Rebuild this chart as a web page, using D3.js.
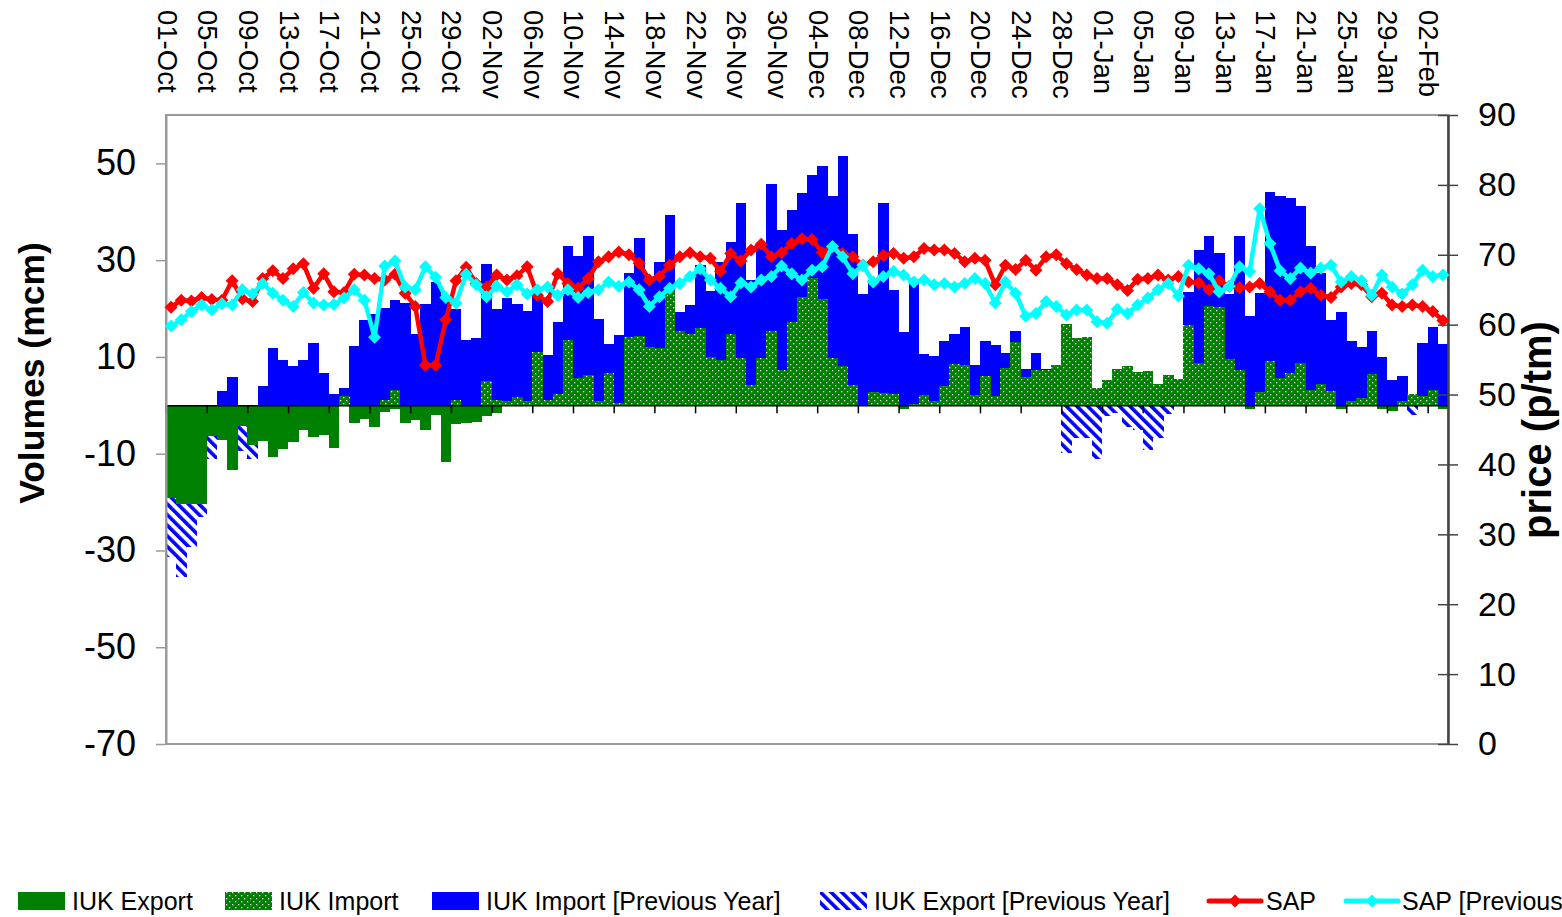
<!DOCTYPE html>
<html><head><meta charset="utf-8">
<script src="https://cdn.jsdelivr.net/npm/d3@7"></script>
<style>
body{margin:0;background:#fff;overflow:hidden}
text{font-family:"Liberation Sans",Arial,Helvetica,sans-serif;fill:#000}
</style>
</head><body>
<svg id="chart" width="1562" height="917"></svg>
<script>
// ---------- DATA ----------
const tickLabels = ["01-Oct","05-Oct","09-Oct","13-Oct","17-Oct","21-Oct","25-Oct","29-Oct",
  "02-Nov","06-Nov","10-Nov","14-Nov","18-Nov","22-Nov","26-Nov","30-Nov",
  "04-Dec","08-Dec","12-Dec","16-Dec","20-Dec","24-Dec","28-Dec",
  "01-Jan","05-Jan","09-Jan","13-Jan","17-Jan","21-Jan","25-Jan","29-Jan","02-Feb"];
const tickEvery = 4;

const iukExport = [
 -19.2,-20.3,-20.3,-20.3,-6.3,-7.2,-13.4,-4.3,-8.3,-7.4,
 -10.6,-9.0,-7.5,-5.1,-6.5,-6.1,-8.8,0,-3.6,-2.8,
 -4.4,-1.3,-0.8,-3.6,-3.0,-5.1,-2.0,-11.7,-3.9,-3.7,
 -3.5,-2.2,-1.5,0,0,0,0,0,0,0,
 0,0,0,0,0,0,0,0,0,0,
 0,0,0,0,0,0,0,0,0,0,
 0,0,0,0,0,0,0,0,0,0,
 0,0,-0.7,0,0,0,0,0,0,0,
 0,0,0,0,0,0,0,0,0,0,
 0,0,0,0,0,0,0,0,0,0,
 0,0,0,0,0,0,-0.7,0,0,0,
 0,0,0,0,0,-0.8,0,0,0,-0.8,
 -1.1,0,0,0,0,-0.8];

const iukImport = [
 0,0,0,0,0,0,0,0,0,0,
 0,0,0,0,0,0,0,1.9,0,0,
 0,1.2,3.2,0,0,0,0,0,1.1,0,
 0,5.0,1.2,0.9,1.8,0.9,11.0,1.2,2.3,13.5,
 5.7,6.2,0.8,6.6,0.4,14.1,14.3,12.0,11.9,23.7,
 15.4,14.8,16.0,9.9,9.4,14.8,9.8,4.1,9.8,15.4,
 7.3,17.2,22.3,26.3,21.9,9.8,8.1,4.1,0,2.8,
 2.5,2.3,0,0.3,2.1,0.9,4.0,8.6,8.3,2.1,
 6.1,1.9,7.7,13.1,5.9,7.4,7.4,8.3,16.8,13.9,
 14.1,3.6,5.2,7.5,8.1,6.8,7.1,4.4,6.3,5.4,
 16.6,8.7,20.6,20.3,9.6,7.3,0,2.8,9.2,5.7,
 6.6,8.7,3.2,4.4,3.0,0,0.9,1.5,6.5,0,
 0,0.9,2.3,1.9,3.2,0];

const iukImportPrev = [
 0,0,0,0,0,3.0,5.9,0,0,3.9,
 11.9,9.4,8.1,9.4,12.9,6.7,2.3,3.6,12.3,17.7,
 18.9,20.1,21.8,21.2,14.8,21.0,25.4,22.8,19.9,13.5,
 13.9,29.2,19.9,22.1,21.0,19.5,22.8,10.4,17.2,33.0,
 30.9,35.0,17.8,12.6,14.5,27.3,34.6,25.6,29.6,39.4,
 19.3,20.8,29.0,23.7,29.6,33.7,41.8,26.0,33.5,45.8,
 36.3,40.4,43.9,47.7,49.5,43.3,51.6,35.4,23.0,26.0,
 41.8,23.9,15.2,25.6,10.6,10.2,13.3,14.8,16.2,8.3,
 13.3,12.5,10.8,15.4,7.5,10.8,7.5,5.0,8.0,7.0,
 6.0,3.0,4.0,5.0,6.0,5.0,5.0,3.0,4.0,4.0,
 23.5,32.0,35.0,31.4,23.0,35.0,18.5,23.2,44.0,43.3,
 42.9,41.2,33.0,27.3,17.7,19.3,13.3,12.1,15.4,10.0,
 5.2,6.1,0,12.9,16.2,12.7];

const iukExportPrev = [
 -31.3,-35.4,-29.2,-23.0,-11.0,-5.0,-5.0,-9.5,-11.0,0,
 0,0,0,0,0,0,0,0,0,0,
 0,0,0,0,0,0,0,0,0,0,
 0,0,0,0,0,0,0,0,0,0,
 0,0,0,0,0,0,0,0,0,0,
 0,0,0,0,0,0,0,0,0,0,
 0,0,0,0,0,0,0,0,0,0,
 0,0,0,0,0,0,0,0,0,0,
 0,0,0,0,0,0,0,0,-9.9,-6.8,
 -6.8,-11.0,-2.3,-1.5,-4.4,-5.2,-9.2,-6.8,-1.7,0,
 0,0,0,0,0,0,0,0,0,0,
 0,0,0,0,0,0,0,0,0,0,
 0,0,-2.0,0,0,0];

const sap = [
 62.5,63.5,63.4,63.9,63.6,63.5,66.3,63.7,63.3,66.6,
 67.7,66.6,68.0,68.7,65.2,67.3,64.7,64.6,67.2,67.1,
 66.6,66.4,67.2,64.5,62.6,54.2,54.2,60.7,66.3,68.2,
 65.9,65.4,67.1,66.4,67.0,68.3,64.2,63.3,67.3,65.9,
 65.2,66.6,69.0,69.7,70.4,70.0,68.8,66.4,66.9,68.5,
 69.7,70.3,69.7,69.5,67.6,70.2,69.1,70.7,71.5,69.7,
 70.3,71.6,72.3,72.2,70.3,71.2,70.2,69.7,68.5,69.0,
 69.9,70.2,69.5,69.7,70.9,70.7,70.7,70.2,69.0,69.5,
 69.2,65.7,68.5,67.9,69.2,67.8,69.7,70.0,68.7,67.9,
 67.1,66.6,66.6,65.7,64.9,66.5,66.6,67.1,66.4,66.9,
 66.1,66.0,65.0,66.3,65.5,65.3,65.4,65.9,64.7,63.5,
 63.5,64.7,65.2,64.2,63.9,65.4,65.9,65.7,64.0,64.5,
 62.8,62.6,62.8,62.6,61.9,60.6];

const sapPrev = [
 59.8,60.7,61.9,62.8,62.1,63.0,62.8,65.0,64.4,65.9,
 64.5,63.5,62.6,64.6,63.1,62.8,62.9,63.8,65.0,63.5,
 58.2,68.4,69.1,65.4,65.0,68.3,66.8,63.9,63.1,67.2,
 65.7,64.0,65.5,64.7,65.7,64.4,65.0,65.4,64.2,65.0,
 63.9,64.6,65.0,66.1,65.5,66.1,65.0,62.6,64.0,65.2,
 65.9,66.9,68.0,66.4,65.2,64.0,66.0,65.4,66.4,66.9,
 68.4,67.3,66.4,67.8,68.3,71.2,69.7,67.3,68.5,66.1,
 66.9,67.6,67.1,66.1,66.4,65.7,65.9,65.4,65.9,66.6,
 65.9,63.1,66.1,64.5,61.2,61.6,63.3,62.6,61.4,62.1,
 62.1,60.4,60.2,62.2,61.6,62.8,63.8,65.0,65.9,64.1,
 68.5,68.0,67.3,64.7,65.5,68.3,67.6,76.6,71.6,67.7,
 66.6,68.1,67.4,68.1,68.5,66.1,66.9,66.3,64.2,67.1,
 65.4,64.4,65.7,67.8,66.9,67.1];

const leftTicks = [-70,-50,-30,-10,10,30,50];
const rightTicks = [0,10,20,30,40,50,60,70,80,90];
const legendLabels = ["IUK Export","IUK Import","IUK Import [Previous Year]","IUK Export [Previous Year]","SAP","SAP [Previous Year]"];

// ---------- LAYOUT ----------
const L = 166, R = 1448, T = 115, B = 744;
const n = sap.length;
const svg = d3.select("#chart");
const font = '"Liberation Sans",Arial,Helvetica,sans-serif';

const x = d3.scaleBand().domain(d3.range(n)).range([L, R]).padding(0);
const xb = d3.scaleLinear().domain([0, n]).range([L, R]);
const yL = d3.scaleLinear().domain([-70, 60]).range([B, T]);
const yR = d3.scaleLinear().domain([0, 90]).range([B, T]);

const defs = svg.append("defs");
const dots = defs.append("pattern").attr("id","dots").attr("patternUnits","userSpaceOnUse")
  .attr("width",6).attr("height",6);
dots.append("rect").attr("width",6).attr("height",6).attr("fill","#008000");
dots.append("rect").attr("x",1).attr("y",1).attr("width",1.3).attr("height",1.3).attr("fill","#e8f0e8");
dots.append("rect").attr("x",4).attr("y",4).attr("width",1.3).attr("height",1.3).attr("fill","#e8f0e8");

const hatch = defs.append("pattern").attr("id","hatch").attr("patternUnits","userSpaceOnUse")
  .attr("width",7.5).attr("height",7.5).attr("patternTransform","rotate(-45)");
hatch.append("rect").attr("width",7.5).attr("height",7.5).attr("fill","#fff");
hatch.append("rect").attr("width",3.6).attr("height",7.5).attr("fill","#0000ff");

// plot area border
svg.append("rect").attr("x",L).attr("y",T).attr("width",R-L).attr("height",B-T)
  .attr("fill","#fff").attr("stroke","#999").attr("stroke-width",2);

function bars(data, fill) {
  svg.append("g").attr("shape-rendering","crispEdges")
    .selectAll("rect").data(data.map((v,i)=>({v,i})).filter(d=>d.v!==0)).join("rect")
    .attr("x", d => x(d.i))
    .attr("width", x.bandwidth() + 0.4)
    .attr("y", d => Math.min(yL(d.v), yL(0)))
    .attr("height", d => Math.abs(yL(d.v) - yL(0)))
    .attr("fill", fill);
}
bars(iukImportPrev, "#0000ff");
bars(iukExportPrev, "url(#hatch)");
bars(iukImport, "url(#dots)");
bars(iukExport, "#008000");

// category axis at zero
const xAxis = d3.axisBottom(xb).tickValues(d3.range(0, n, tickEvery)).tickFormat("").tickSize(8).tickSizeOuter(0);
const gx = svg.append("g").attr("transform", `translate(0,${yL(0)})`).call(xAxis);
gx.select(".domain").attr("stroke","#000").attr("stroke-width",1.5);
gx.selectAll(".tick line").attr("stroke","#000").attr("stroke-width",1.5);

// top date labels
svg.append("g").selectAll("text").data(tickLabels).join("text")
  .attr("transform", (d,k) => `translate(${xb(k*tickEvery)+1},10) rotate(90)`)
  .attr("text-anchor","start").attr("dominant-baseline","central")
  .style("font-size","27.5px").text(d => d);

// left axis
const gl = svg.append("g").attr("transform",`translate(${L},0)`)
  .call(d3.axisLeft(yL).tickValues(leftTicks).tickFormat(d => String(d)).tickSize(10).tickSizeOuter(0).tickPadding(20));
gl.select(".domain").attr("stroke","#999").attr("stroke-width",2);
gl.selectAll(".tick line").attr("stroke","#999").attr("stroke-width",1.5);
gl.selectAll(".tick text").style("font-size","36px").style("font-family",font).attr("fill","#000");

// right axis
const gr = svg.append("g").attr("transform",`translate(${R},0)`)
  .call(d3.axisRight(yR).tickValues(rightTicks).tickFormat(d => String(d)).tickSize(10).tickSizeOuter(0).tickPadding(20));
gr.select(".domain").attr("stroke","#444").attr("stroke-width",2.5);
gr.selectAll(".tick line").attr("x1",-10).attr("stroke","#444").attr("stroke-width",1.5);
gr.selectAll(".tick text").style("font-size","34px").style("font-family",font).attr("fill","#000");

// lines
const diamond = "M0,-6.5L6.5,0L0,6.5L-6.5,0Z";
function series(data, color) {
  const g = svg.append("g");
  g.append("path").datum(data)
    .attr("d", d3.line().x((v,i)=>x(i)+x.bandwidth()/2).y(v=>yR(v)))
    .attr("fill","none").attr("stroke",color).attr("stroke-width",4.5).attr("stroke-linejoin","round");
  g.selectAll("path.m").data(data).join("path").attr("class","m")
    .attr("transform",(v,i)=>`translate(${x(i)+x.bandwidth()/2},${yR(v)})`)
    .attr("d",diamond).attr("fill",color);
}
series(sap, "#ff0000");
series(sapPrev, "#00ffff");

// axis titles
svg.append("text").attr("transform","translate(32,373) rotate(-90)")
  .attr("text-anchor","middle").attr("dominant-baseline","central")
  .style("font-size","35.5px").style("font-weight","bold").text("Volumes (mcm)");
svg.append("text").attr("transform","translate(1537,430) rotate(-90)")
  .attr("text-anchor","middle").attr("dominant-baseline","central")
  .style("font-size","40px").style("font-weight","bold").text("price (p/tm)");

// legend
const legY = 901;
const legSym = [18, 225, 432, 820, 1209, 1346];
const legTxt = [72, 279, 486, 874, 1266, 1402];
const legFill = ["#008000","url(#dots)","#0000ff","url(#hatch)"];
const lg = svg.append("g");
legendLabels.forEach((lab, k) => {
  if (k < 4) {
    lg.append("rect").attr("x",legSym[k]).attr("y",legY-9).attr("width",47).attr("height",18)
      .attr("fill",legFill[k]).attr("shape-rendering","crispEdges");
  } else {
    const c = k === 4 ? "#ff0000" : "#00ffff";
    lg.append("line").attr("x1",legSym[k]).attr("x2",legSym[k]+52).attr("y1",legY).attr("y2",legY)
      .attr("stroke",c).attr("stroke-width",5).attr("stroke-linecap","round");
    lg.append("path").attr("transform",`translate(${legSym[k]+26},${legY})`).attr("d",diamond).attr("fill",c);
  }
  lg.append("text").attr("x",legTxt[k]).attr("y",legY).attr("dominant-baseline","central")
    .style("font-size","25px").text(lab);
});
</script>
</body></html>
